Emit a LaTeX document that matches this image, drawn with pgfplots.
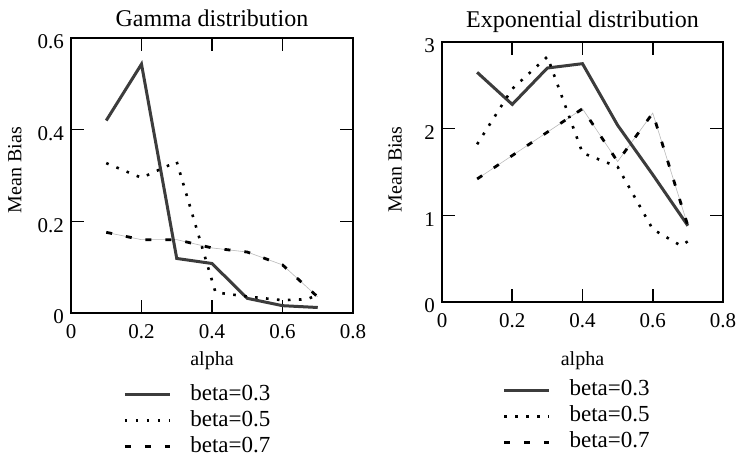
\documentclass[border=0pt]{standalone}
\usepackage{fontspec}
\setmainfont{Liberation Serif}
\usepackage{pgfplots}
\pgfplotsset{compat=1.18}
\definecolor{solidgray}{HTML}{3C3C3C}
\pgfplotsset{
  every axis title shift=0pt,
  common/.style={
    scale only axis,
    xmin=0, xmax=0.8,
    ymin=0,
    axis line style={line width=0.8pt},
    tick align=inside,
    major tick length=6.5pt,
    tick style={line width=0.8pt, black},
    xtick={0,0.2,0.4,0.6,0.8},
    /pgf/number format/assume math mode=true,
    tick label style={font=\fontsize{10.5}{12}\selectfont},
    yticklabel style={yshift=-2pt},
    xticklabel style={yshift=-2pt},
    label style={font=\fontsize{10}{12}\selectfont},
    title style={font=\fontsize{12}{14}\selectfont, anchor=center},
    legend image code/.code={\draw[#1] (0pt,0pt) -- (22.5pt,0pt);},
    legend cell align=left,
    legend style={draw=none, fill=none, inner sep=0pt, anchor=north west,
      font=\fontsize{11.5}{13}\selectfont,
      nodes={text height=8pt, text depth=2.5pt, inner sep=1pt},
      /tikz/every odd column/.style={column sep=8.5pt}},
  },
  s1/.style={solidgray, line width=1.5pt},
  s2/.style={black, line width=1.3pt, dash pattern=on 1.3pt off 4.2pt},
  s3/.style={black, line width=1.4pt, dash pattern=on 3pt off 7pt},
  s3thin/.style={gray!55, line width=0.3pt},
}
\begin{document}
\begin{tikzpicture}
\useasboundingbox (-35.5pt,-73.5pt) rectangle (335.5pt,156.5pt);
\begin{axis}[common,
  at={(0pt,0pt)}, anchor=south west,
  width=141pt, height=137.5pt,
  ymax=0.6, ytick={0,0.2,0.4,0.6},
  title={Gamma distribution},
  title style={at={(axis description cs:0.5,1.07)}},
  xlabel={alpha},
  xlabel style={at={(axis description cs:0.5,-0.175)}, anchor=center},
  ylabel={Mean Bias},
  ylabel style={at={(axis description cs:-0.199,0.52)}, anchor=center},
  legend style={at={(axis description cs:0.184,-0.25)}, row sep=0.5pt},
]
\addplot[s3thin, forget plot] coordinates {(0.1,0.176)(0.2,0.160)(0.3,0.160)(0.4,0.142)(0.5,0.133)(0.6,0.105)(0.7,0.035)};
\addplot[s1] coordinates {(0.1,0.420)(0.2,0.543)(0.3,0.119)(0.4,0.108)(0.5,0.032)(0.6,0.016)(0.7,0.012)};
\addlegendentry{beta=0.3}
\addplot[s2] coordinates {(0.1,0.327)(0.2,0.295)(0.3,0.330)(0.41,0.045)(0.5,0.036)(0.6,0.028)(0.67,0.030)(0.7,0.040)};
\addlegendentry{beta=0.5}
\addplot[s3] coordinates {(0.1,0.176)(0.2,0.160)(0.3,0.160)(0.4,0.142)(0.5,0.133)(0.6,0.105)(0.7,0.035)};
\addlegendentry{beta=0.7}
\end{axis}
\begin{axis}[common,
  at={(185.5pt,5.5pt)}, anchor=south west,
  width=140.5pt, height=130pt,
  ymax=3, ytick={0,1,2,3},
  title={Exponential distribution},
  title style={at={(axis description cs:0.5,1.077)}},
  xlabel={alpha},
  xlabel style={at={(axis description cs:0.5,-0.224)}, anchor=center},
  ylabel={Mean Bias},
  ylabel style={at={(axis description cs:-0.167,0.51)}, anchor=center},
  legend style={at={(axis description cs:0.214,-0.29)}, row sep=0.5pt},
]
\addplot[s3thin, forget plot] coordinates {(0.1,1.42)(0.2,1.69)(0.3,1.96)(0.4,2.23)(0.5,1.62)(0.6,2.18)(0.7,0.88)};
\addplot[s1] coordinates {(0.1,2.65)(0.2,2.28)(0.3,2.70)(0.4,2.75)(0.5,2.04)(0.6,1.47)(0.7,0.88)};
\addlegendentry{beta=0.3}
\addplot[s2] coordinates {(0.1,1.82)(0.2,2.46)(0.3,2.83)(0.4,1.72)(0.5,1.56)(0.6,0.84)(0.68,0.65)(0.7,0.70)};
\addlegendentry{beta=0.5}
\addplot[s3] coordinates {(0.1,1.42)(0.2,1.69)(0.3,1.96)(0.4,2.23)(0.5,1.62)(0.6,2.18)(0.7,0.88)};
\addlegendentry{beta=0.7}
\end{axis}
\end{tikzpicture}
\end{document}
